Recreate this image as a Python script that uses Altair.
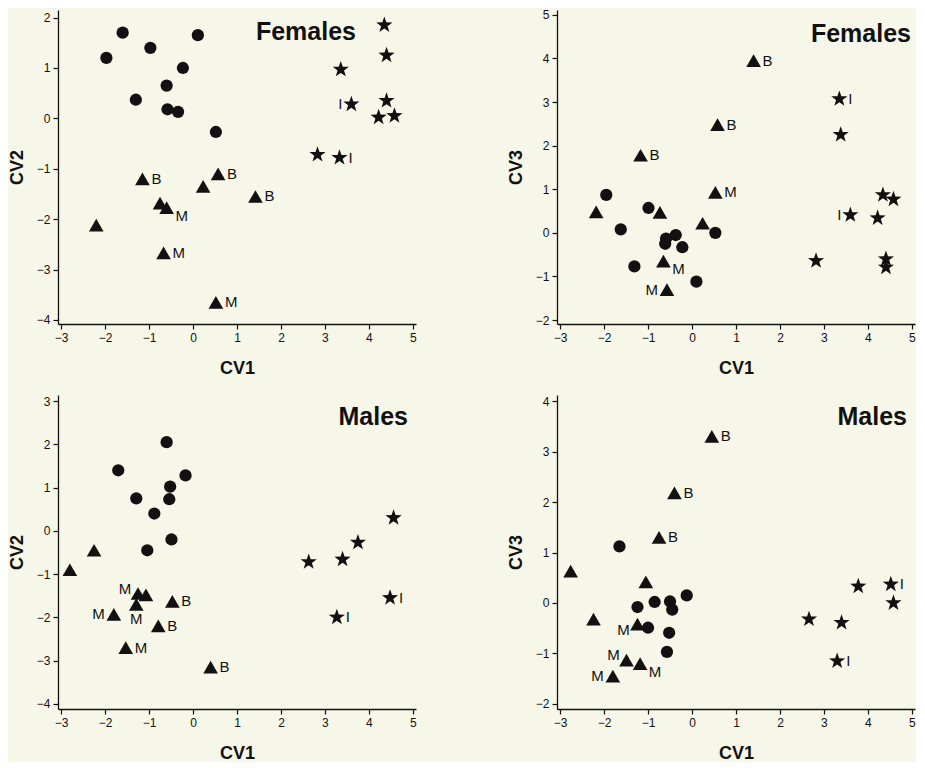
import altair as alt

FONT = "Liberation Sans"
INK = "#111111"

# ---------------- Panel 1: Females, CV1 vs CV2 ----------------
p1_circle_x = [-1.97, -1.6, -0.97, 0.11, -0.23, -0.6, -1.3, -0.58, -0.34, 0.52]
p1_circle_y = [1.2, 1.7, 1.4, 1.65, 1.0, 0.65, 0.37, 0.18, 0.13, -0.27]
p1_tri_x = [-1.15, 0.57, 0.23, 1.42, -0.75, -0.6, -2.2, -0.67, 0.52]
p1_tri_y = [-1.2, -1.1, -1.35, -1.55, -1.68, -1.77, -2.12, -2.67, -3.65]
p1_tri_lab = ["B", "B", "", "B", "", "M", "", "M", "M"]
p1_tri_pos = ["r", "r", "", "r", "", "rb", "", "r", "r"]
p1_star_x = [4.35, 4.4, 3.36, 3.6, 4.4, 4.22, 4.58, 2.83, 3.33]
p1_star_y = [1.85, 1.25, 0.97, 0.28, 0.35, 0.02, 0.05, -0.72, -0.78]
p1_star_lab = ["", "", "", "I", "", "", "", "", "I"]
p1_star_pos = ["", "", "", "l", "", "", "", "", "r"]

# ---------------- Panel 2: Females, CV1 vs CV3 ----------------
p2_circle_x = [-1.95, -0.99, -1.62, -0.37, -0.59, -0.61, -0.22, 0.53, -1.31, 0.1]
p2_circle_y = [0.87, 0.57, 0.08, -0.05, -0.13, -0.25, -0.33, 0.0, -0.77, -1.12]
p2_tri_x = [1.4, 0.58, -1.17, 0.53, -2.18, -0.73, 0.24, -0.65, -0.57]
p2_tri_y = [3.95, 2.48, 1.78, 0.93, 0.48, 0.47, 0.22, -0.65, -1.3]
p2_tri_lab = ["B", "B", "B", "M", "", "", "", "M", "M"]
p2_tri_pos = ["r", "r", "r", "r", "", "", "", "rb", "l"]
p2_star_x = [3.35, 3.38, 4.34, 4.58, 3.6, 4.22, 2.82, 4.41, 4.41]
p2_star_y = [3.07, 2.25, 0.87, 0.77, 0.41, 0.34, -0.64, -0.6, -0.79]
p2_star_lab = ["I", "", "", "", "I", "", "", "", ""]
p2_star_pos = ["r", "", "", "", "l", "", "", "", ""]

# ---------------- Panel 3: Males, CV1 vs CV2 ----------------
p3_circle_x = [-0.6, -1.7, -0.17, -0.52, -1.29, -0.54, -0.88, -0.49, -1.04]
p3_circle_y = [2.05, 1.4, 1.28, 1.02, 0.75, 0.73, 0.4, -0.2, -0.45]
p3_tri_x = [-2.25, -2.8, -1.25, -1.07, -1.29, -1.8, -0.47, -0.79, -1.53, 0.4]
p3_tri_y = [-0.45, -0.9, -1.45, -1.48, -1.7, -1.93, -1.63, -2.2, -2.7, -3.15]
p3_tri_lab = ["", "", "M", "", "M", "M", "B", "B", "M", "B"]
p3_tri_pos = ["", "", "la", "", "b", "l", "r", "r", "r", "r"]
p3_star_x = [4.56, 3.75, 2.63, 3.4, 4.48, 3.27]
p3_star_y = [0.3, -0.27, -0.72, -0.66, -1.55, -2.0]
p3_star_lab = ["", "", "", "", "I", "I"]
p3_star_pos = ["", "", "", "", "r", "r"]

# ---------------- Panel 4: Males, CV1 vs CV3 ----------------
p4_circle_x = [-1.65, -0.12, -0.85, -0.5, -0.45, -1.24, -1.0, -0.52, -0.57]
p4_circle_y = [1.12, 0.15, 0.02, 0.03, -0.13, -0.08, -0.49, -0.59, -0.97]
p4_tri_x = [0.45, -0.4, -0.75, -2.76, -1.05, -2.24, -1.24, -1.49, -1.18, -1.8]
p4_tri_y = [3.3, 2.18, 1.3, 0.63, 0.42, -0.32, -0.42, -1.13, -1.2, -1.45]
p4_tri_lab = ["B", "B", "B", "", "", "", "M", "M", "M", "M"]
p4_tri_pos = ["r", "r", "r", "", "", "", "lb", "la", "rb", "l"]
p4_star_x = [4.52, 3.78, 4.58, 2.66, 3.4, 3.3]
p4_star_y = [0.37, 0.33, 0.0, -0.32, -0.39, -1.15]
p4_star_lab = ["I", "", "", "", "", "I"]
p4_star_pos = ["r", "", "", "", "", "r"]

x_ticks = [-3, -2, -1, 0, 1, 2, 3, 4, 5]

# label placement styles: align, dx, dy
POS = {
    "r": ("left", 9, 0),
    "l": ("right", -9, 0),
    "rb": ("center", 15, 8),
    "b": ("center", 0, 15),
    "la": ("center", -13, -5),
    "lb": ("center", -14, 6),
}

STAR = ("M0,-1 L0.235,-0.324 L0.951,-0.309 L0.38,0.124 L0.588,0.809 L0,0.4 "
        "L-0.588,0.809 L-0.38,0.124 L-0.951,-0.309 L-0.235,-0.324 Z")
SHAPES = {"circle": ("circle", 150), "triangle": ("triangle-up", 215), "star": (STAR, 290)}


def frame(cx, cy, tx, ty, tl, tp, sx, sy, sl, sp):
    rows = []
    for x, y in zip(cx, cy):
        rows.append(dict(x=x, y=y, g="circle", lab="", pos="none"))
    for x, y, l, p in zip(tx, ty, tl, tp):
        rows.append(dict(x=x, y=y, g="triangle", lab=l, pos=p if p else "none"))
    for x, y, l, p in zip(sx, sy, sl, sp):
        rows.append(dict(x=x, y=y, g="star", lab=l, pos=p if p else "none"))
    return rows


def panel(rows, ytitle, ydom, yvals, name, tx, ty):
    xs = alt.Scale(domain=[-3.07, 5.07], nice=False, zero=False)
    ys = alt.Scale(domain=ydom, nice=False, zero=False)
    xenc = alt.X("x:Q", scale=xs, axis=alt.Axis(values=x_ticks, title="CV1"))
    yenc = alt.Y("y:Q", scale=ys, axis=alt.Axis(values=yvals, title=ytitle))
    layers = []
    for g, (shape, size) in SHAPES.items():
        sub = [r for r in rows if r["g"] == g]
        layers.append(
            alt.Chart(alt.Data(values=sub)).mark_point(filled=True, opacity=1, color=INK,
                                                       shape=shape, size=size)
            .encode(x=xenc, y=yenc)
        )
    for code, (align, dx, dy) in POS.items():
        sub = [r for r in rows if r["pos"] == code]
        if not sub:
            continue
        layers.append(
            alt.Chart(alt.Data(values=sub)).mark_text(align=align, dx=dx, dy=dy, baseline="middle",
                                                      fontSize=15, font=FONT, color=INK)
            .encode(x=xenc, y=yenc, text="lab:N")
        )
    ttl = alt.Chart(alt.Data(values=[{"t": name}])).mark_text(
        align="right", baseline="middle", fontSize=25, fontWeight="bold", font=FONT, color=INK
    ).encode(x=alt.value(tx), y=alt.value(ty), text="t:N")
    layers.append(ttl)
    return alt.layer(*layers).properties(width=358, height=314)


d1 = frame(p1_circle_x, p1_circle_y, p1_tri_x, p1_tri_y, p1_tri_lab, p1_tri_pos,
           p1_star_x, p1_star_y, p1_star_lab, p1_star_pos)
d2 = frame(p2_circle_x, p2_circle_y, p2_tri_x, p2_tri_y, p2_tri_lab, p2_tri_pos,
           p2_star_x, p2_star_y, p2_star_lab, p2_star_pos)
d3 = frame(p3_circle_x, p3_circle_y, p3_tri_x, p3_tri_y, p3_tri_lab, p3_tri_pos,
           p3_star_x, p3_star_y, p3_star_lab, p3_star_pos)
d4 = frame(p4_circle_x, p4_circle_y, p4_tri_x, p4_tri_y, p4_tri_lab, p4_tri_pos,
           p4_star_x, p4_star_y, p4_star_lab, p4_star_pos)

c1 = panel(d1, "CV2", [-4.08, 2.15], [-4, -3, -2, -1, 0, 1, 2], "Females", 298, 22)
c2 = panel(d2, "CV3", [-2.09, 5.11], [-2, -1, 0, 1, 2, 3, 4, 5], "Females", 354, 24)
c3 = panel(d3, "CV2", [-4.12, 3.14], [-4, -3, -2, -1, 0, 1, 2, 3], "Males", 350, 22)
c4 = panel(d4, "CV3", [-2.1, 4.12], [-2, -1, 0, 1, 2, 3, 4], "Males", 350, 22)

chart = alt.vconcat(
    alt.hconcat(c1, c2, spacing=90),
    alt.hconcat(c3, c4, spacing=90),
    spacing=18,
).configure(background="#F7F7E9", padding=0).configure_view(
    stroke=None
).configure_axis(
    grid=False, domainColor=INK, tickColor=INK, labelColor=INK, titleColor=INK,
    tickSize=5, domainWidth=1.3, tickWidth=1.2, labelFontSize=12, labelFont=FONT,
    titleFont=FONT, titleFontSize=18, titleFontWeight="bold", labelPadding=3,
).configure_axisX(titlePadding=16).configure_axisY(titlePadding=10)

chart.save("out.html", embed_options={"renderer": "svg", "actions": False})
